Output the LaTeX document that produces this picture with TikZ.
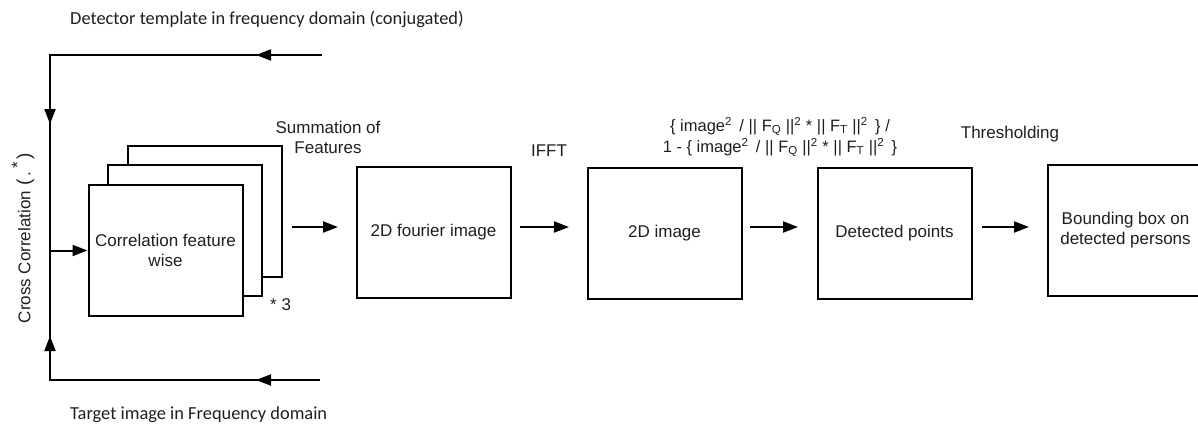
\documentclass[tikz,border=0pt]{standalone}
\usepackage{fontspec}
\setmainfont{Liberation Sans}
\newfontfamily\calib{Carlito}
\usetikzlibrary{arrows.meta}

\tikzset{
  box/.style={draw, fill=white, line width=2pt, inner sep=0pt,
    minimum width=#1, minimum height=131pt, align=center,
    font=\fontsize{17}{20}\selectfont, text=black!88},
  box/.default=154pt,
  lbl/.style={align=center, inner sep=0pt, text=black!88,
    font=\fontsize{17}{20}\selectfont},
  note/.style={inner sep=0pt, text=black!88, font=\calib\fontsize{18.4}{22}\selectfont},
  wire/.style={line width=2pt},
  flow/.style={line width=2pt, -{Triangle[length=15pt,width=11pt]}},
}

\begin{document}
\begin{tikzpicture}[x=1pt, y=-1pt]
\useasboundingbox (0,0) rectangle (1198,426);

% stacked feature correlation boxes (back to front)
\node[box] (back)  at (204.5,211.5) {};
\node[box] (mid)   at (185,230.5) {};
\node[box] (front) at (165.5,250.5) {Correlation feature\\wise};
\node[lbl, anchor=west] (times) at (270,305) {* 3};

% processing chain
\node[box] (four)  at (433.5,232.5) {2D fourier image};
\node[box] (img)   at (664.5,233) {2D image};
\node[box] (det)   at (894.5,233) {Detected points};
\node[box=155pt] (bbox) at (1125.5,230) {Bounding box on\\detected persons};

% inputs and the cross-correlation junction
\coordinate (tin) at (322,55);
\coordinate (tl)  at (50,55);
\coordinate (bin) at (320,380);
\coordinate (bl)  at (50,380);
\coordinate (jn)  at (50,250.5);
\draw[wire] (tin) -- (tl) -- (bl) -- (bin);
\draw[flow] (tin) -- (256,55);
\draw[flow] (tl) -- (50,124);
\draw[flow] (bin) -- (256,380);
\draw[flow] (bl) -- (50,336);
\draw[flow] (jn) -- (front.west);

% arrows between stages
\coordinate (a1) at (292,227);
\coordinate (a2) at (520,227);
\coordinate (a3) at (750,227);
\coordinate (a4) at (982,227);
\draw[flow] (a1) -- (338,227);
\draw[flow] (a2) -- (569,227);
\draw[flow] (a3) -- (798,227);
\draw[flow] (a4) -- (1029,227);

% labels
\node[note, anchor=base west] (tdet) at (70,24.5) {Detector template in frequency domain (conjugated)};
\node[note, anchor=base west] (ttgt) at (70,419.5) {Target image in Frequency domain};
\node[lbl, rotate=90] (xcorr) at (23,238)
  {Cross Correlation\,\,{\fontsize{19}{20}\selectfont(}\,.\,\raisebox{7pt}{*}\,{\fontsize{19}{20}\selectfont)}};
\node[lbl] (sum) at (328,137) {Summation of\\Features};
\node[lbl] (ifft) at (549,151) {IFFT};
\node[lbl, font=\fontsize{16.5}{21}\selectfont] (norm) at (780,137)
  {\{ image\textsuperscript{2}\, / || F\textsubscript{Q} ||\textsuperscript{2} * || F\textsubscript{T} ||\textsuperscript{2}\, \} /\\
   1 - \{ image\textsuperscript{2}\, / || F\textsubscript{Q} ||\textsuperscript{2} * || F\textsubscript{T} ||\textsuperscript{2}\, \}};
\node[lbl] (thr) at (1010,134) {Thresholding};
\end{tikzpicture}
\end{document}
